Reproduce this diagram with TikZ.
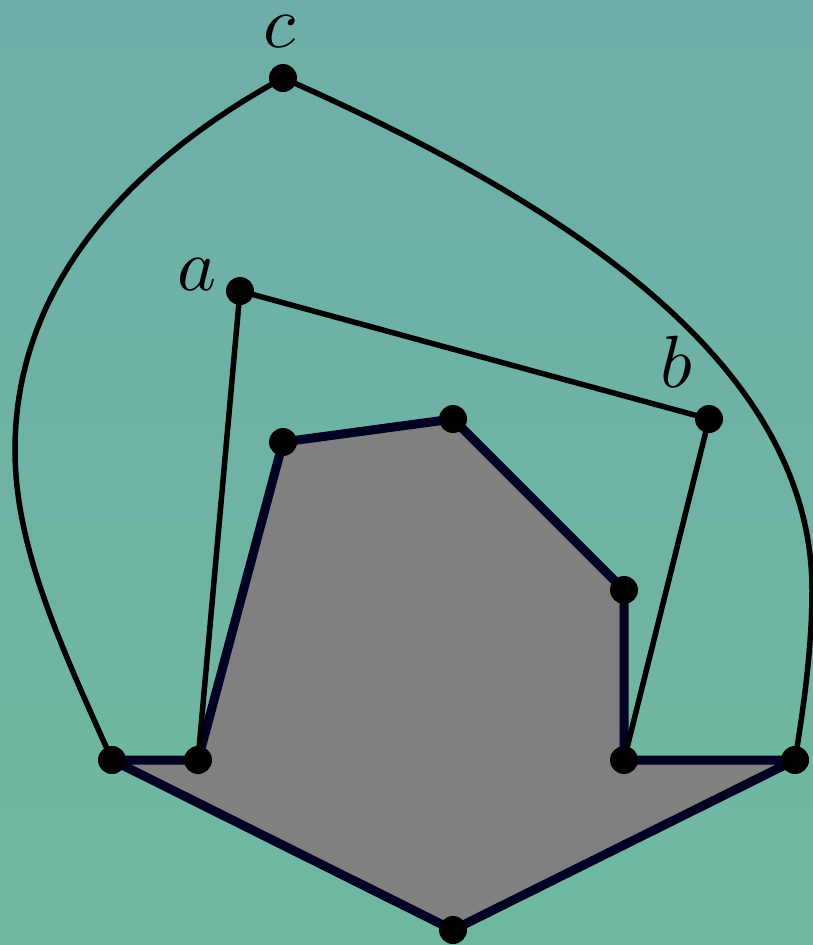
\documentclass[tikz,border=0pt]{standalone}
\usepackage{tikz}
\usetikzlibrary{positioning}

\DeclareFontShape{OML}{cmm}{m}{it}{<-> cmmi10}{}

\definecolor{bgtop}{HTML}{6EAEA9}
\definecolor{bgbot}{HTML}{6FB89F}
\definecolor{rimnavy}{HTML}{000022}
\definecolor{hullgray}{HTML}{808080}

\begin{document}
\begin{tikzpicture}[x=1pt, y=-1pt,
    dotnode/.style={circle, fill=black, inner sep=0pt, minimum size=28pt},
    rim/.style={draw=rimnavy, line width=9pt, line join=round},
    edge/.style={draw=black, line width=5.5pt},
    lbl/.style={font=\fontsize{74}{80}\selectfont, inner sep=0pt}
]
    % background
    \shade[top color=bgtop, bottom color=bgbot] (0,0) rectangle (813,945);
    \useasboundingbox (0,0) rectangle (813,945);

    % points
    \coordinate (c) at (283,78);
    \coordinate (a) at (240,291);
    \coordinate (b) at (709,419);
    \coordinate (p1) at (112,760);
    \coordinate (p2) at (198,760);
    \coordinate (p3) at (283,442);
    \coordinate (p4) at (453,419);
    \coordinate (p5) at (624,590);
    \coordinate (p6) at (624,760);
    \coordinate (p7) at (795,760);
    \coordinate (p8) at (453,930);

    % shaded polygon
    \path[rim, fill=hullgray] (p1) -- (p2) -- (p3) -- (p4) -- (p5) -- (p6) -- (p7) -- (p8) -- cycle;

    % outer curves and inner edges
    \draw[edge] (p1) .. controls (63,650) and (15,550) .. (15,450)
                     .. controls (15,270) and (151,150) .. (c);
    \draw[edge] (c) .. controls (557,199) and (812,360) .. (812,590)
                    .. controls (812,650) and (803,711) .. (p7);
    \draw[edge] (p2) -- (a) -- (b) -- (p6);

    % vertices
    \foreach \v in {c,a,b,p1,p2,p3,p4,p5,p6,p7,p8}
        \node[dotnode] (d\v) at (\v) {};

    % labels
    \node[lbl] (lc) at (280,32) {$c$};
    \node[lbl] (la) at (197,275) {$a$};
    \node[lbl] (lb) at (676,362) {$b$};
\end{tikzpicture}
\end{document}
